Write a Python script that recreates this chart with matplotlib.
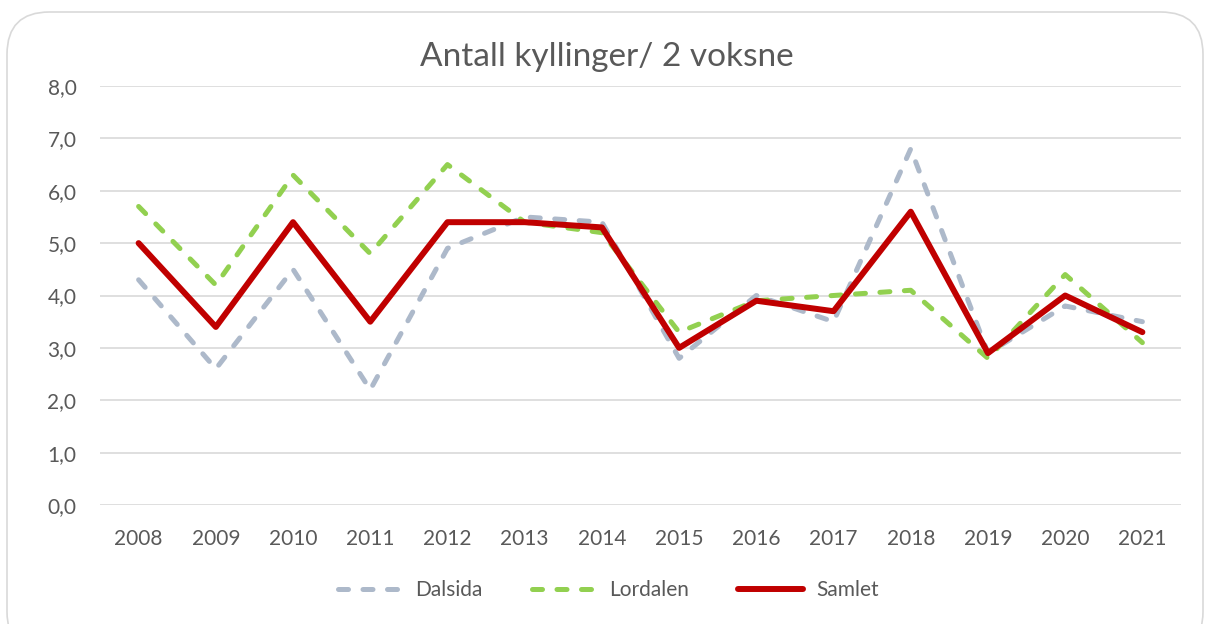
import matplotlib
matplotlib.use('Agg')
import matplotlib.pyplot as plt
import matplotlib.patches as mpl_patches
import numpy as np

years = ['2008', '2009', '2010', '2011', '2012', '2013', '2014',
         '2015', '2016', '2017', '2018', '2019', '2020', '2021']
dalsida = [4.3, 2.6, 4.5, 2.2, 4.9, 5.5, 5.4, 2.8, 4.0, 3.5, 6.8, 2.9, 3.8, 3.5]
lordalen = [5.7, 4.2, 6.3, 4.8, 6.5, 5.4, 5.2, 3.3, 3.9, 4.0, 4.1, 2.8, 4.4, 3.1]
samlet = [5.0, 3.4, 5.4, 3.5, 5.4, 5.4, 5.3, 3.0, 3.9, 3.7, 5.6, 2.9, 4.0, 3.3]
y_ticks = np.arange(0, 8.1, 1.0)

W, H = 1212, 624
plt.rcParams['font.family'] = ['Lato', 'DejaVu Sans']
fig = plt.figure(figsize=(W / 100, H / 100), dpi=100)

# rounded chart frame, kept behind everything
frame = mpl_patches.FancyBboxPatch((7 / W, -30 / H), 1196 / W, (H - 12 + 30) / H,
                                   boxstyle='round,pad=0,rounding_size=0.035',
                                   transform=fig.transFigure, facecolor='white',
                                   edgecolor='#d9d9d9', linewidth=1.2,
                                   mutation_aspect=W / H, zorder=-10)
fig.patches.append(frame)

ax = fig.add_axes([100 / W, 1 - 505 / H, (1181 - 100) / W, (505 - 86) / H])
ax.set_zorder(5)
ax.set_facecolor('none')
x = np.arange(len(years))

dash = (0, (2.0, 2.9))
ax.plot(x, dalsida, color='#adb9ca', lw=3.6, ls=dash,
        dash_capstyle='round', solid_joinstyle='round', label='Dalsida', zorder=3)
ax.plot(x, lordalen, color='#92d050', lw=3.6, ls=dash,
        dash_capstyle='round', solid_joinstyle='round', label='Lordalen', zorder=3)
ax.plot(x, samlet, color='#c00000', lw=4.3, solid_capstyle='round',
        solid_joinstyle='round', label='Samlet', zorder=4)

ax.set_xlim(-0.5, len(years) - 0.5)
ax.set_ylim(0, 8)
ax.set_yticks(y_ticks)
ax.set_yticklabels([f'{v:.1f}'.replace('.', ',') for v in y_ticks])
ax.set_xticks(x)
ax.set_xticklabels(years)
ax.grid(axis='y', color='#d9d9d9', lw=1.2)
ax.set_axisbelow(True)
for s in ax.spines.values():
    s.set_visible(False)
ax.tick_params(length=0, labelsize=15, colors='#595959', pad=17)
ax.tick_params(axis='x', pad=17.5)

fig.text(607 / W, 1 - 57 / H, 'Antall kyllinger/ 2 voksne', ha='center',
         va='center', fontsize=24, color='#595959')

leg = fig.legend(loc='center', bbox_to_anchor=(608 / W, 1 - 590 / H), ncol=3,
                 frameon=False, fontsize=15, handlelength=3.1, columnspacing=2.35,
                 handletextpad=0.63)
for t in leg.get_texts():
    t.set_color('#595959')

fig.savefig('out.png', dpi=100)
